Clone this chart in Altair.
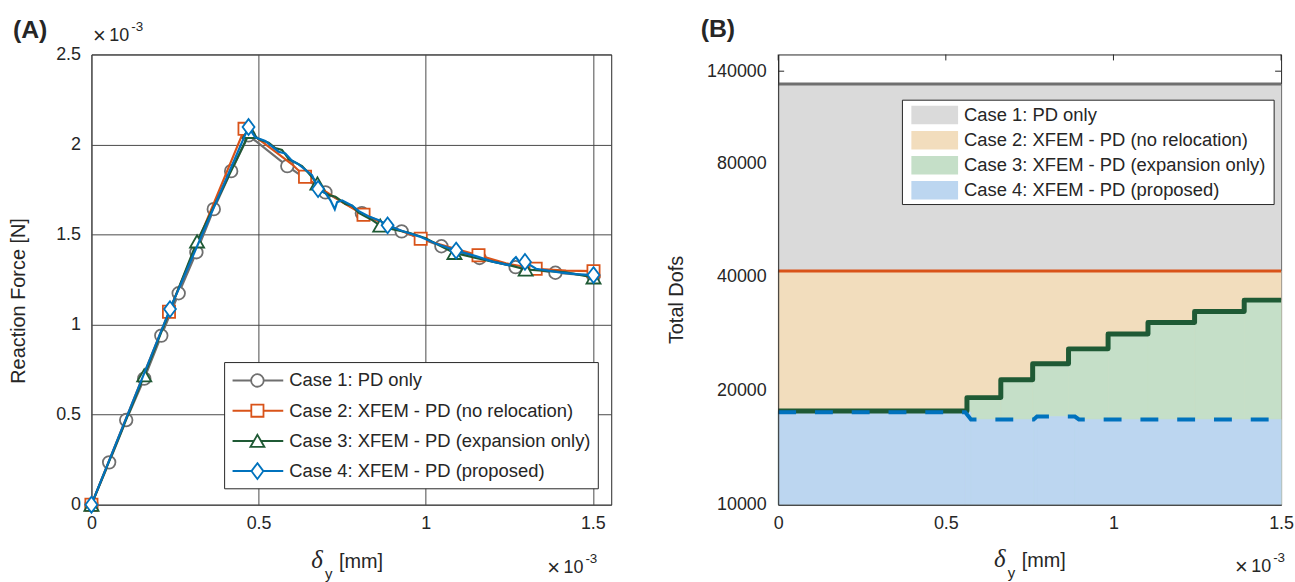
import altair as alt
import pandas as pd

# ---------------- Panel (A): reaction force (x1e-3 N) vs delta_y (x1e-3 mm) ----------------
case1_x = [0, 0.053, 0.104, 0.158, 0.209, 0.261, 0.314, 0.366, 0.418, 0.470, 0.586, 0.700,
           0.809, 0.928, 1.047, 1.161, 1.269, 1.388, 1.502]
case1_y = [0, 0.235, 0.470, 0.700, 0.939, 1.174, 1.402, 1.641, 1.852, 2.051, 1.880, 1.734,
           1.619, 1.518, 1.435, 1.370, 1.319, 1.288, 1.270]
case1_mx = case1_x
case1_my = case1_y

case2_x = [0, 0.232, 0.458, 0.50, 0.55, 0.60, 0.639, 0.70, 0.75, 0.814, 0.90, 0.985, 1.07,
           1.158, 1.24, 1.329, 1.42, 1.502]
case2_y = [0, 1.071, 2.087, 2.03, 1.96, 1.89, 1.821, 1.74, 1.68, 1.610, 1.54, 1.477, 1.43,
           1.385, 1.34, 1.310, 1.30, 1.297]
case2_mx = [0, 0.232, 0.458, 0.639, 0.814, 0.985, 1.158, 1.329, 1.502]
case2_my = [0, 1.071, 2.087, 1.821, 1.610, 1.477, 1.385, 1.310, 1.297]

case3_x = [0, 0.158, 0.316, 0.474, 0.50, 0.53, 0.55, 0.57, 0.59, 0.61, 0.63, 0.65, 0.676,
           0.69, 0.71, 0.73, 0.76, 0.78, 0.80, 0.82, 0.84, 0.864, 0.90, 0.95, 1.0, 1.04,
           1.086, 1.15, 1.2, 1.25, 1.299, 1.35, 1.42, 1.502]
case3_y = [0, 0.718, 1.462, 2.07, 2.03, 2.01, 1.98, 1.97, 1.92, 1.90, 1.88, 1.84, 1.784,
           1.74, 1.72, 1.71, 1.67, 1.66, 1.62, 1.60, 1.58, 1.55, 1.53, 1.51, 1.48, 1.44,
           1.398, 1.37, 1.35, 1.33, 1.306, 1.30, 1.29, 1.262]
case3_mx = [0, 0.158, 0.316, 0.474, 0.676, 0.864, 1.086, 1.299, 1.502]
case3_my = [0, 0.718, 1.462, 2.07, 1.784, 1.55, 1.398, 1.306, 1.262]

case4_x = [0, 0.235, 0.470, 0.49, 0.52, 0.54, 0.56, 0.58, 0.60, 0.62, 0.64, 0.66, 0.678,
           0.70, 0.715, 0.728, 0.735, 0.75, 0.78, 0.80, 0.83, 0.86, 0.886, 0.93, 0.98,
           1.03, 1.091, 1.15, 1.20, 1.25, 1.262, 1.27, 1.28, 1.297, 1.33, 1.40, 1.45, 1.502]
case4_y = [0, 1.086, 2.097, 2.04, 2.02, 1.99, 1.96, 1.95, 1.91, 1.89, 1.86, 1.83, 1.753,
           1.73, 1.69, 1.64, 1.68, 1.69, 1.66, 1.63, 1.60, 1.58, 1.551, 1.52, 1.49,
           1.45, 1.411, 1.38, 1.35, 1.33, 1.36, 1.375, 1.35, 1.348, 1.31, 1.29, 1.28, 1.275]
case4_mx = [0, 0.235, 0.470, 0.678, 0.886, 1.091, 1.297, 1.502]
case4_my = [0, 1.086, 2.097, 1.753, 1.551, 1.411, 1.348, 1.275]

# ---------------- Panel (B): total dofs vs delta_y ----------------
b_full_x = [0, 1.5]
b_case1_dofs = [129500, 129500]
b_case2_dofs = [41500, 41500]
b_case3_x = [0, 0.563, 0.664, 0.759, 0.866, 0.984, 1.103, 1.242, 1.390, 1.5]
b_case3_dofs = [17700, 19190, 21400, 23580, 25820, 28280, 30330, 32420, 34740, 34740]
b_case4_x = [0, 0.558, 0.575, 0.762, 0.772, 0.885, 0.897, 1.5]
b_case4_dofs = [17550, 17550, 16800, 16800, 17100, 17100, 16800, 16800]
b_floor = 10000

labels = ["Case 1: PD only", "Case 2: XFEM - PD (no relocation)",
          "Case 3: XFEM - PD (expansion only)", "Case 4: XFEM - PD (proposed)"]
line_colors = ["#6f6f6f", "#d95319", "#1f5a35", "#0072bd"]
fill_colors = ["#dadada", "#f2ddbd", "#c5dfc8", "#bcd6f0"]
DIAMOND = "M0,-1L0.75,0L0,1L-0.75,0Z"
shapes = ["circle", "square", "triangle-up", DIAMOND]
marker_sizes = [160, 150, 200, 256]

x_ticks = [0, 0.5, 1, 1.5]
ya_ticks = [0, 0.5, 1, 1.5, 2, 2.5]
yb_ticks = [10000, 20000, 40000, 80000, 140000]

WA, HA = 523, 453
WB, HB = 506, 453
FONT = "Liberation Sans"
TXT = "#262626"
one = pd.DataFrame({"k": [0]})


def df(xs, ys):
    return pd.DataFrame({"x": xs, "y": ys, "i": list(range(len(xs)))})


def seg_df(xs, ys):
    # step-after fill pieces: each level held until the next breakpoint
    return pd.DataFrame({"x": xs[:-1], "x1": xs[1:], "y": ys[:-1],
                         "base": [b_floor] * (len(xs) - 1)})


def txt(s, x, y, size, font=FONT, align="left", baseline="middle", **kw):
    return alt.Chart(one).mark_text(text=s, fontSize=size, font=font, color=TXT,
                                    align=align, baseline=baseline, **kw).encode(
        x=alt.value(x), y=alt.value(y))


def exponent(x_cross, y_mid):
    return [txt("×", x_cross, y_mid, 22, align="center"),
            txt("10", x_cross + 10, y_mid, 18),
            txt("-3", x_cross + 32, y_mid - 9, 13.5)]


def xlabel(cx, y_mid):
    return [txt("δ", cx, y_mid - 2, 25, font="Liberation Serif", align="center", fontStyle="italic"),
            txt("y", cx + 8, y_mid + 12, 15),
            txt("[mm]", cx + 22, y_mid, 20)]


# ---------------- Panel A ----------------
xA = alt.X("x:Q", scale=alt.Scale(domain=[0, 1.555], nice=False, zero=False),
           axis=alt.Axis(values=x_ticks, format="~g", title=None, grid=True, gridColor="#4a4a4a",
                         ticks=False, domain=False, labelFont=FONT, labelFontSize=18,
                         labelColor=TXT, labelPadding=10, labelFlush=False))
yA = alt.Y("y:Q", scale=alt.Scale(domain=[0, 2.5], nice=False),
           axis=alt.Axis(values=ya_ticks, format="~g", title=None, grid=True, gridColor="#4a4a4a",
                         ticks=False, domain=False, labelFont=FONT, labelFontSize=18,
                         labelColor=TXT, labelPadding=11))

series = [(case1_x, case1_y, case1_mx, case1_my), (case2_x, case2_y, case2_mx, case2_my),
          (case3_x, case3_y, case3_mx, case3_my), (case4_x, case4_y, case4_mx, case4_my)]
layers_a = []
for k, (lx, ly, mx, my) in enumerate(series):
    layers_a.append(alt.Chart(df(lx, ly)).mark_line(color=line_colors[k], strokeWidth=2.2).encode(
        x=xA, y=yA, order="i:Q"))
    layers_a.append(alt.Chart(df(mx, my)).mark_point(
        shape=shapes[k], size=marker_sizes[k], filled=True, fill="white", fillOpacity=1,
        stroke=line_colors[k], strokeWidth=1.8, opacity=1).encode(x=xA, y=yA))

# legend A
layers_a.append(alt.Chart(one).mark_rect(fill="white", stroke=TXT, strokeWidth=1).encode(
    x=alt.value(134), x2=alt.value(510), y=alt.value(310), y2=alt.value(437)))
for k in range(4):
    ry = 328 + 30.4 * k
    layers_a.append(alt.Chart(one).mark_rule(color=line_colors[k], strokeWidth=2).encode(
        x=alt.value(142), x2=alt.value(193), y=alt.value(ry)))
    layers_a.append(alt.Chart(one).mark_point(
        shape=shapes[k], size=marker_sizes[k], filled=True, fill="white", fillOpacity=1,
        stroke=line_colors[k], strokeWidth=1.8, opacity=1).encode(x=alt.value(167), y=alt.value(ry)))
    layers_a.append(txt(labels[k], 199, ry, 18.5))

layers_a.append(txt("(A)", -79, -25, 25, fontWeight="bold"))
layers_a += exponent(8, -19)
layers_a += exponent(465, 517)
layers_a += xlabel(227, 511)
layers_a.append(txt("Reaction Force [N]", -73, 248, 20, align="center", angle=270))

panel_a = alt.layer(*layers_a).properties(width=WA, height=HA)

# ---------------- Panel B ----------------
xB = alt.X("x:Q", scale=alt.Scale(domain=[0, 1.5], nice=False, zero=False),
           axis=alt.Axis(values=x_ticks, format="~g", title=None, grid=False, ticks=False,
                         domain=True, domainColor=TXT, zindex=1, labelFont=FONT, labelFontSize=18,
                         labelColor=TXT, labelPadding=10, labelFlush=False))
yB = alt.Y("y:Q", scale=alt.Scale(type="log", domain=[10000, 155000], nice=False),
           axis=alt.Axis(values=yb_ticks, format="d", title=None, grid=False, ticks=False,
                         domain=True, domainColor=TXT, zindex=1, labelFont=FONT, labelFontSize=18,
                         labelColor=TXT, labelPadding=12))

layers_b = []
# inward ticks (drawn beneath the fills, like the original)
layers_b.append(alt.Chart(pd.DataFrame({"x": x_ticks})).mark_rule(color=TXT, strokeWidth=1).encode(
    x=xB, y=alt.value(0), y2=alt.value(6)))
layers_b.append(alt.Chart(pd.DataFrame({"y": yb_ticks})).mark_rule(color=TXT, strokeWidth=1).encode(
    y=yB, x=alt.value(0), x2=alt.value(6)))
layers_b.append(alt.Chart(pd.DataFrame({"y": yb_ticks})).mark_rule(color=TXT, strokeWidth=1).encode(
    y=yB, x=alt.value(WB - 6), x2=alt.value(WB)))

b_series = [(b_full_x, b_case1_dofs, "linear"), (b_full_x, b_case2_dofs, "linear"),
            (b_case3_x, b_case3_dofs, "step-after"), (b_case4_x, b_case4_dofs, "linear")]
for k, (bx, by, interp) in enumerate(b_series):
    layers_b.append(alt.Chart(seg_df(bx, by)).mark_rect(
        fill=fill_colors[k], stroke=fill_colors[k], strokeWidth=0.6, opacity=1).encode(
        x=xB, x2="x1:Q", y=yB, y2="base:Q"))
line_styles = [dict(strokeWidth=3), dict(strokeWidth=3),
               dict(strokeWidth=5, strokeJoin="round"), dict(strokeWidth=4, strokeDash=[18, 19])]
for k, (bx, by, interp) in enumerate(b_series):
    layers_b.append(alt.Chart(df(bx, by)).mark_line(color=line_colors[k], interpolate=interp,
                                                    **line_styles[k]).encode(
        x=xB, y=yB, order="i:Q"))

# legend B
layers_b.append(alt.Chart(one).mark_rect(fill="white", stroke=TXT, strokeWidth=1).encode(
    x=alt.value(125), x2=alt.value(499), y=alt.value(46), y2=alt.value(151)))
for k in range(4):
    ry = 61 + 25.2 * k
    layers_b.append(alt.Chart(one).mark_rect(fill=fill_colors[k]).encode(
        x=alt.value(134), x2=alt.value(181), y=alt.value(ry - 9.3), y2=alt.value(ry + 9.3)))
    layers_b.append(txt(labels[k], 187, ry, 18.5))

layers_b.append(txt("(B)", -78, -26, 25, fontWeight="bold"))
layers_b += exponent(466, 516)
layers_b += xlabel(223, 510)
layers_b.append(txt("Total Dofs", -102, 247, 20, align="center", angle=270))

panel_b = alt.layer(*layers_b).properties(width=WB, height=HB)

chart = alt.hconcat(panel_a, panel_b, spacing=54).properties(
    padding={"left": 8, "top": 14, "right": 0, "bottom": 0}
).configure_view(stroke=TXT, strokeWidth=1)

chart.save("out.html", embed_options={"renderer": "svg", "actions": False})
